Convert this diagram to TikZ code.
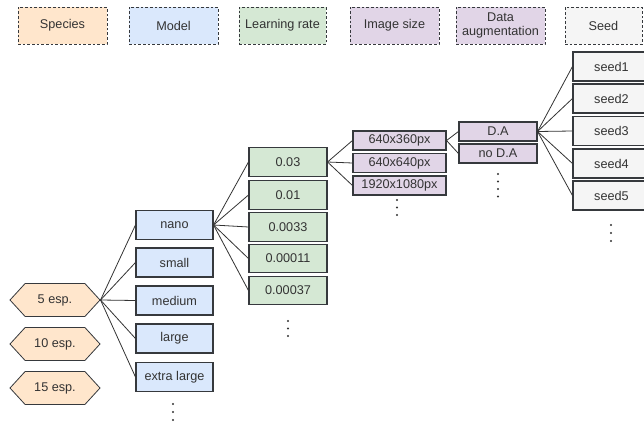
\documentclass[tikz,border=0pt]{standalone}
\usepackage{fontspec}
\setmainfont{Liberation Sans}
\usetikzlibrary{shapes.symbols}
\definecolor{cspec}{HTML}{FFE6CC}
\definecolor{cmodel}{HTML}{DAE8FC}
\definecolor{clr}{HTML}{D5E8D4}
\definecolor{cimg}{HTML}{E1D5E7}
\definecolor{cseed}{HTML}{F5F5F5}
\definecolor{bord}{HTML}{36393D}
\definecolor{txt}{HTML}{333333}
\definecolor{wire}{HTML}{333333}
\begin{document}
\begin{tikzpicture}[x=0.75pt,y=-0.75pt,
  font=\fontsize{9.5}{10.5}\selectfont, text=txt,
  every node/.style={inner sep=0pt, align=center},
  head/.style={draw=bord, line width=0.7pt, dash pattern=on 2pt off 1.5pt, minimum width=66.75pt, minimum height=27.75pt},
  box/.style={draw=bord, line width=0.8pt, minimum width=57.75pt, minimum height=21.75pt},
  smallbox/.style={draw=bord, line width=0.8pt, minimum height=14.25pt},
  hexa/.style={draw=bord, line width=0.6pt, fill=cspec, shape=signal, signal to=east and west, signal pointer angle=95, minimum width=67.5pt, minimum height=24.75pt},
  wire/.style={draw=wire, line width=0.6pt},
  dotc/.style={fill=txt}
]
\useasboundingbox (0,0) rectangle (644,422);

% headers
\node[head, fill=cspec] (hs) at (62.5,25.5) {Species};
\node[head, fill=cmodel] (hm) at (173.5,25.5) {Model};
\node[head, fill=clr, minimum width=65.25pt] (hl) at (282.5,25.5) {Learning rate};
\node[head, fill=cimg] (hi) at (394.5,25.5) {Image size};
\node[head, fill=cimg] (hd) at (500.5,25.5) {Data\\augmentation};
\node[head, fill=cseed, minimum width=57.75pt] (hseed) at (603.5,25.5) {Seed};

% species
\node[hexa] (s5) at (55,300) {5 esp.};
\node[hexa] (s10) at (55,344) {10 esp.};
\node[hexa] (s15) at (55,388) {15 esp.};

% models
\node[box, fill=cmodel] (m1) at (174.5,225) {nano};
\node[box, fill=cmodel] (m2) at (174.5,262.5) {small};
\node[box, fill=cmodel] (m3) at (174.5,300.5) {medium};
\node[box, fill=cmodel] (m4) at (174.5,338.5) {large};
\node[box, fill=cmodel] (m5) at (174.5,377) {extra large};

% learning rates
\node[box, fill=clr, minimum width=58.5pt, minimum height=21.4pt] (l1) at (288,162) {0.03};
\node[box, fill=clr, minimum width=58.5pt, minimum height=21.4pt] (l2) at (288,195) {0.01};
\node[box, fill=clr, minimum width=58.5pt, minimum height=21.4pt] (l3) at (288,227) {0.0033};
\node[box, fill=clr, minimum width=58.5pt, minimum height=21.4pt] (l4) at (288,258.5) {0.00011};
\node[box, fill=clr, minimum width=58.5pt, minimum height=21.4pt] (l5) at (288,290.5) {0.00037};

% image sizes
\node[smallbox, fill=cimg, minimum width=69.75pt] (i1) at (399.5,140.5) {640x360px};
\node[smallbox, fill=cimg, minimum width=69.75pt] (i2) at (399.5,163) {640x640px};
\node[smallbox, fill=cimg, minimum width=69.75pt] (i3) at (399.5,185.5) {1920x1080px};

% data augmentation
\node[smallbox, fill=cimg, minimum width=58.5pt] (d1) at (498,131.5) {D.A};
\node[smallbox, fill=cimg, minimum width=58.5pt] (d2) at (498,153.5) {no D.A};

% seeds
\node[box, fill=cseed] (e1) at (611.5,66.5) {seed1};
\node[box, fill=cseed] (e2) at (611.5,98.5) {seed2};
\node[box, fill=cseed] (e3) at (611.5,131) {seed3};
\node[box, fill=cseed] (e4) at (611.5,163.5) {seed4};
\node[box, fill=cseed] (e5) at (611.5,195.5) {seed5};

% connectors
\foreach \t in {m1,m2,m3,m4,m5} \draw[wire] (s5.east) -- (\t.west);
\foreach \t in {l1,l2,l3,l4,l5} \draw[wire] (m1.east) -- (\t.west);
\foreach \t in {i1,i2,i3} \draw[wire] (l1.east) -- (\t.west);
\foreach \t in {d1,d2} \draw[wire] (i1.east) -- (\t.west);
\foreach \t in {e1,e2,e3,e4,e5} \draw[wire] (d1.east) -- (\t.west);

% continuation dots
\foreach \y in {404,412,420} \fill[dotc] (173,\y) circle (0.9pt);
\foreach \y in {321,328.5,336} \fill[dotc] (288,\y) circle (0.9pt);
\foreach \y in {200,207.5,215} \fill[dotc] (397,\y) circle (0.9pt);
\foreach \y in {174,181.5,189,196.5} \fill[dotc] (498,\y) circle (0.9pt);
\foreach \y in {225,233,241} \fill[dotc] (611,\y) circle (0.9pt);
\end{tikzpicture}
\end{document}
